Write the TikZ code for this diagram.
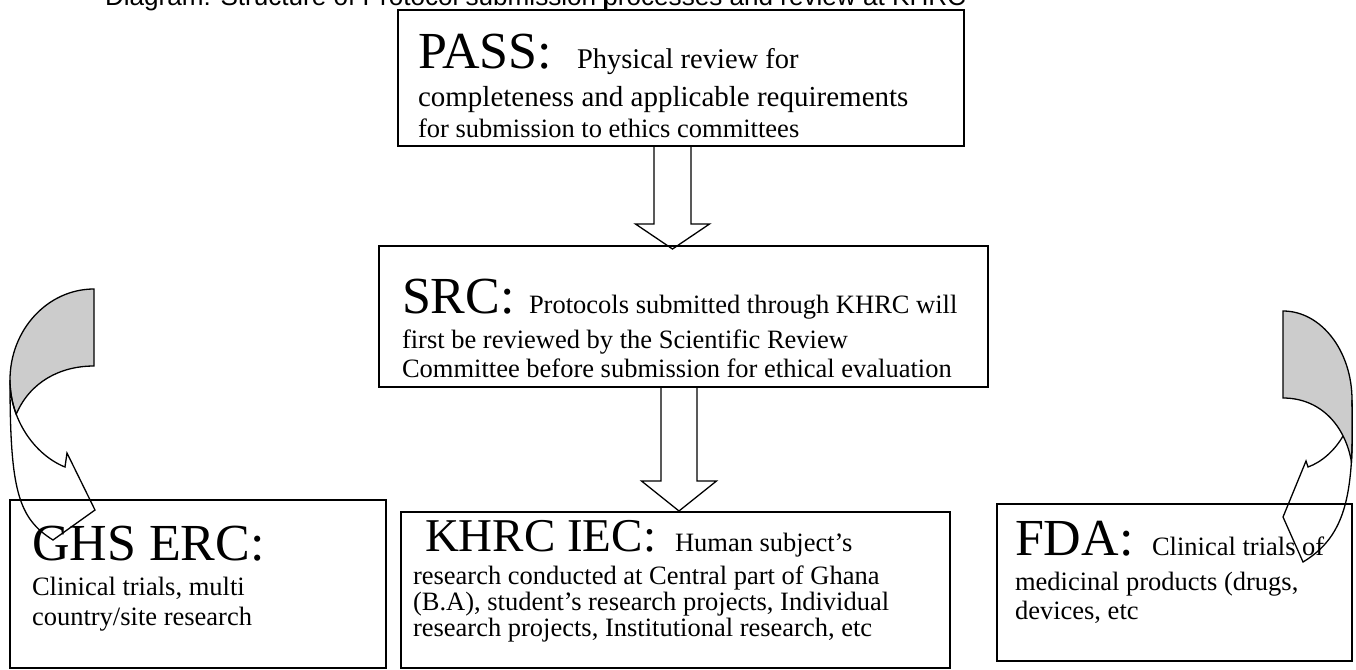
\documentclass[tikz,border=0pt]{standalone}
\usepackage{fontspec}
\setmainfont{Liberation Serif}
\newfontfamily\arialfont{Liberation Sans}
\usetikzlibrary{calc}
\definecolor{backgray}{RGB}{204,204,204}
\begin{document}
\begin{tikzpicture}[x=1pt,y=-1pt,
  box/.style={draw=black, line width=1.8pt, inner sep=0pt, outer sep=0pt, anchor=north west},
  txt/.style={anchor=base west, inner sep=0pt, outer sep=0pt},
  big/.style={font=\fontsize{52}{52}\selectfont},
  small/.style={font=\fontsize{26.5}{30}\selectfont},
  blockarrow/.style={draw=black, line width=1.3pt, line join=miter},
  curvearrow/.style={draw=black, line width=1.3pt, line join=miter},
]
\useasboundingbox (0,0) rectangle (1356,669);

% title (cut at top of page)
\node[txt, font=\arialfont\fontsize{26.1}{26}\selectfont] (title) at (105,6)
  {Diagram: Structure of Protocol submission processes and review at KHRC};
\coordinate (cur1) at (604,0);
\coordinate (cur2) at (604,9);
\draw[line width=1pt] (cur1) -- (cur2);

% boxes
\node[box, minimum width=566pt, minimum height=136pt] (pass) at (398,10) {};
\node[box, minimum width=609pt, minimum height=141pt] (src) at (379,246) {};
\node[box, minimum width=376pt, minimum height=168pt] (ghs) at (10,500) {};
\node[box, minimum width=549pt, minimum height=156pt] (khrc) at (401,512) {};
\node[box, minimum width=355pt, minimum height=157pt] (fda) at (997,504) {};

% PASS text
\node[txt, big] (passh) at (418,68) {PASS:};
\node[txt, font=\fontsize{28.5}{30}\selectfont] (pass1) at (577,68) {Physical review for};
\node[txt, font=\fontsize{29}{30}\selectfont] (pass2) at (418,106) {completeness and applicable requirements};
\node[txt, small] (pass3) at (418,137) {for submission to ethics committees};

% SRC text
\node[txt, big] (srch) at (402,313) {SRC:};
\node[txt, small] (src1) at (529,313) {Protocols submitted through KHRC will};
\node[txt, small] (src2) at (402,348) {first be reviewed by the Scientific Review};
\node[txt, small] (src3) at (402,377) {Committee before submission for ethical evaluation};

% GHS text
\node[txt, big] (ghsh) at (32,560) {GHS ERC:};
\node[txt, small] (ghs1) at (32,595) {Clinical trials, multi};
\node[txt, small] (ghs2) at (32,625) {country/site research};

% KHRC text
\node[txt, font=\fontsize{47}{47}\selectfont] (khrch) at (425,551) {KHRC IEC:};
\node[txt, small] (khrc0) at (675,551) {Human subject’s};
\node[txt, small] (khrc1) at (413,584) {research conducted at Central part of Ghana};
\node[txt, small] (khrc2) at (413,610) {(B.A), student’s research projects, Individual};
\node[txt, small] (khrc3) at (413,636) {research projects, Institutional research, etc};

% FDA text
\node[txt, big] (fdah) at (1015,555) {FDA:};
\node[txt, small] (fda0) at (1152,555) {Clinical trials of};
\node[txt, small] (fda1) at (1015,590) {medicinal products (drugs,};
\node[txt, small] (fda2) at (1015,619) {devices, etc};

% block arrows
\coordinate (a1s) at ($(pass.south)+(-8.5,0)$);
\coordinate (a1e) at ($(src.north)+(-11,3)$);
\draw[blockarrow] let \p1=(a1s), \p2=(a1e) in
  (\x1-18.5pt,\y1) -- (\x1-18.5pt,\y2+25pt) -- (\x1-37pt,\y2+25pt) -- (\x1,\y2)
  -- (\x1+37pt,\y2+25pt) -- (\x1+18.5pt,\y2+25pt) -- (\x1+18.5pt,\y1);
\coordinate (a2s) at ($(src.south)+(-4.5,0)$);
\coordinate (a2e) at ($(khrc.north)+(4,-1)$);
\draw[blockarrow] let \p1=(a2s), \p2=(a2e) in
  (\x1-18pt,\y1) -- (\x1-18pt,\y2+30pt) -- (\x1-37.5pt,\y2+30pt) -- (\x1,\y2)
  -- (\x1+37.5pt,\y2+30pt) -- (\x1+18pt,\y2+30pt) -- (\x1+18pt,\y1);

% left curved arrow
\filldraw[curvearrow, fill=backgray]
  (94,289) .. controls (47.6,289) and (10,329.8) .. (10,380)
  .. controls (10,392) and (12.25,403.55) .. (16.2,414.2)
  .. controls (30,382) and (60,366) .. (94,366) -- cycle;
\draw[curvearrow]
  (10,380) .. controls (10,490) and (18,518) .. (53,540)
  -- (95,510) -- (67,453) -- (65,467)
  .. controls (35,455) and (10,420) .. (10,380);

% right curved arrow
\filldraw[curvearrow, fill=backgray]
  (1283,311) .. controls (1321.1,311) and (1352,350.9) .. (1352,400)
  .. controls (1352.5,423.4) and (1352.5,443.8) .. (1351.4,461.6)
  .. controls (1345,425) and (1320,398) .. (1283,398) -- cycle;
\draw[curvearrow]
  (1343,436) .. controls (1335,450) and (1322,462) .. (1308,467)
  -- (1306,461) -- (1283,517) -- (1303,562)
  .. controls (1348,535) and (1354,490) .. (1352,400);
\end{tikzpicture}
\end{document}
